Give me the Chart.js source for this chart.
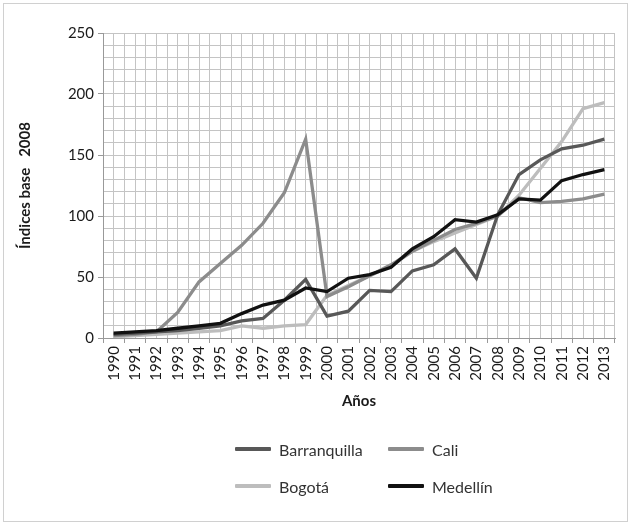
<!DOCTYPE html>
<html>
<head>
<meta charset="utf-8">
<script src="https://cdn.jsdelivr.net/npm/chart.js@4"></script>
<style>
  html, body { margin: 0; padding: 0; background: #fff; }
  #frame { position: absolute; left: 3px; top: 3px; width: 625px; height: 519px; border: 1px solid #d0d0d0; box-sizing: border-box; }
  #wrap { position: absolute; left: 0; top: 0; width: 633px; height: 420px; }
  #legend { position: absolute; left: 0; top: 0; width: 633px; height: 527px; pointer-events: none; font-family: Lato, "Open Sans", sans-serif; font-size: 16px; color: #333; }
  .item { position: absolute; display: flex; align-items: center; height: 20px; }
  .sw { width: 36px; height: 4px; margin-right: 8px; border-radius: 1px; }
</style>
</head>
<body>
<div id="frame"></div>
<div id="wrap"><canvas id="c"></canvas></div>
<div id="legend"></div>
<script>
const years = ["1990","1991","1992","1993","1994","1995","1996","1997","1998","1999","2000","2001","2002","2003","2004","2005","2006","2007","2008","2009","2010","2011","2012","2013"];
const seriesNames = ["Barranquilla", "Cali", "Bogotá", "Medellín"];
const barranquilla = [3, 4, 5, 6, 8, 10, 14, 16, 31, 48, 18, 22, 39, 38, 55, 60, 73, 49, 101, 134, 146, 155, 158, 163];
const cali = [2, 3, 5, 21, 46, 61, 76, 94, 119, 163, 34, 42, 51, 60, 71, 80, 89, 94, 100, 115, 111, 112, 114, 118];
const bogota = [1, 2, 3, 4, 5, 6, 10, 8, 10, 11, 35, 43, 51, 59, 71, 79, 86, 93, 100, 117, 139, 161, 188, 193];
const medellin = [4, 5, 6, 8, 10, 12, 20, 27, 31, 41, 38, 49, 52, 58, 73, 83, 97, 95, 101, 114, 113, 129, 134, 138];
const yTicks = [0, 50, 100, 150, 200, 250];
const colors = ["#585858", "#8c8c8c", "#bdbdbd", "#111111"];
const seriesValues = [barranquilla, cali, bogota, medellin];

const datasets = seriesNames.map((n, i) => ({
  label: n,
  data: seriesValues[i],
  borderColor: colors[i],
  backgroundColor: colors[i],
  borderWidth: 3.3,
  pointRadius: 0,
  tension: 0,
  xAxisID: 'x',
  yAxisID: 'y'
}));
datasets[0].order = 2; datasets[1].order = 3; datasets[2].order = 4; datasets[3].order = 1;

const FONT = "Lato, 'Open Sans', sans-serif";
new Chart(document.getElementById('c'), {
  type: 'line',
  data: { labels: years, datasets },
  options: {
    responsive: true,
    maintainAspectRatio: false,
    animation: false,
    layout: { padding: { top: 33, right: 18, bottom: 10, left: 10 } },
    plugins: { legend: { display: false }, tooltip: { enabled: false } },
    scales: {
      x: {
        type: 'category',
        offset: true,
        position: 'bottom',
        grid: { offset: true, color: '#c4c4c4', lineWidth: 1, tickLength: 5, tickColor: '#999' },
        border: { color: '#999', width: 1 },
        ticks: { maxRotation: 90, minRotation: 90, autoSkip: false, color: '#1a1a1a', padding: 3, font: { family: FONT, size: 15 } },
        title: { display: true, text: 'Años', color: '#1a1a1a', font: { family: FONT, size: 15, weight: 'bold' }, padding: { top: 2, bottom: 0 } },
        afterFit: s => { s.height = 72; }
      },
      x2: {
        type: 'category',
        offset: true,
        position: 'bottom',
        grid: { offset: false, color: '#c4c4c4', lineWidth: 1, drawTicks: false },
        border: { display: false },
        ticks: { display: false },
        afterFit: s => { s.height = 0; }
      },
      y: {
        min: 0, max: 250,
        grid: {
          color: '#c4c4c4', lineWidth: 1, tickLength: 5,
          tickColor: ctx => (ctx.tick && yTicks.includes(ctx.tick.value)) ? '#999' : 'rgba(0,0,0,0)'
        },
        border: { color: '#999', width: 1 },
        ticks: {
          stepSize: 10, autoSkip: false, color: '#1a1a1a', padding: 4,
          font: { family: FONT, size: 15 },
          callback: v => yTicks.includes(v) ? String(v) : ''
        },
        title: { display: true, text: 'Índices base   2008', color: '#1a1a1a', font: { family: FONT, size: 15, weight: 'bold' }, padding: { top: 6, bottom: 0 } },
        afterFit: s => { s.width = 93; }
      }
    }
  }
});

const pos = [[235, 449], [388, 449], [235, 486], [388, 486]];
const legend = document.getElementById('legend');
seriesNames.forEach((n, i) => {
  const it = document.createElement('div');
  it.className = 'item';
  it.style.left = pos[i][0] + 'px';
  it.style.top = (pos[i][1] - 10) + 'px';
  const sw = document.createElement('div');
  sw.className = 'sw';
  sw.style.background = colors[i];
  const tx = document.createElement('span');
  tx.textContent = n;
  it.appendChild(sw); it.appendChild(tx);
  legend.appendChild(it);
});
</script>
</body>
</html>
